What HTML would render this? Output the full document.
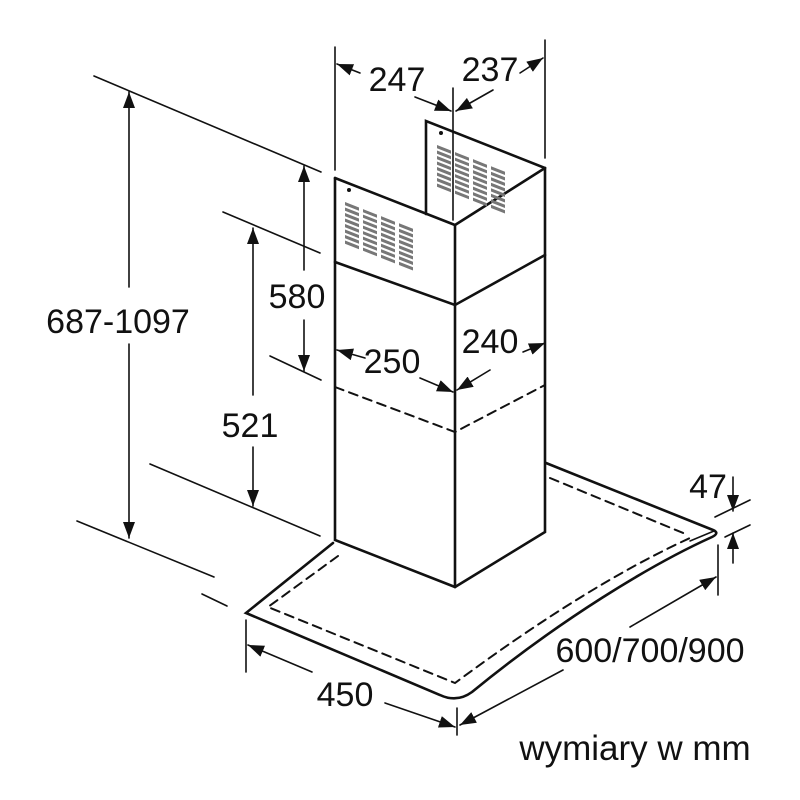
<!DOCTYPE html>
<html><head><meta charset="utf-8"><style>
html,body{margin:0;padding:0;background:#fff;}
svg{display:block;}
text{font-family:"Liberation Sans",Arial,sans-serif;fill:#111;}
</style></head><body>
<svg width="800" height="800" viewBox="0 0 800 800" xmlns="http://www.w3.org/2000/svg">
<defs>
<marker id="a" markerUnits="userSpaceOnUse" markerWidth="18" markerHeight="12" refX="16" refY="6" orient="auto">
<path d="M0,0 L16,6 L0,12 Z" fill="#111"/></marker>
<g id="col">
<rect x="0" y="0" width="14" height="3.2" fill="#777"/>
<rect x="0" y="5.5" width="14" height="3.2" fill="#777"/>
<rect x="0" y="11" width="14" height="3.2" fill="#777"/>
<rect x="0" y="16.5" width="14" height="3.2" fill="#777"/>
<rect x="0" y="22" width="14" height="3.2" fill="#777"/>
<rect x="0" y="27.5" width="14" height="3.2" fill="#777"/>
<rect x="0" y="33" width="14" height="3.2" fill="#777"/>
<rect x="0" y="38.5" width="14" height="3.2" fill="#777"/>
</g>
</defs>
<g stroke="#111" fill="none" stroke-linecap="round">
<g stroke-width="2.6">
<path d="M335,178 L335,540 L455,587 L545,532 L545,168 L426,121 L426,214"/>
<path d="M335,178 L455,225 L545,168"/>
<path d="M455,225 L455,587"/>
<path d="M335,262 L455,305 L545,255"/>
<path d="M546,463 L713,530 Q720,533 712,537 C650,565 560,620 472,692 Q457,703 440,695 L246,613 L333,543"/>
</g>
<path d="M690,541 L714,531" stroke-width="1.5"/>
<g stroke-width="2" stroke-dasharray="9,6">
<path d="M335,387 L455,432 L545,385"/>
<path d="M338,556 L268,607 L455,683 C540,620 620,570 690,538"/>
<path d="M550,478 L688,535"/>
</g>
<g stroke-width="1.6">
<path d="M335,47 L335,170"/>
<path d="M545,40 L545,158"/>
<path d="M453,88 L453,220"/>
<path d="M94,76 L321,172"/>
<path d="M223,212 L320,253"/>
<path d="M270,356 L321,380"/>
<path d="M150,464 L320,536"/>
<path d="M77,521 L214,577"/>
<path d="M202,594 L227,606"/>
<path d="M718,545 L718,595"/>
<path d="M457,708 L457,735"/>
<path d="M246,620 L246,672"/>
<path d="M715,517 L750,500"/>
<path d="M725,537 L750,525"/>
</g>
<g stroke-width="1.6" marker-end="url(#a)">
<path d="M129,287 L129,92"/>
<path d="M129,344 L129,538"/>
<path d="M304,270 L304,166"/>
<path d="M304,320 L304,371"/>
<path d="M253,395 L253,228"/>
<path d="M253,447 L253,506"/>
<path d="M360,73 L337,64"/>
<path d="M415,97 L451,111"/>
<path d="M493,90 L456,111"/>
<path d="M520,73 L543,58"/>
<path d="M365,358 L337,350"/>
<path d="M420,378 L453,392"/>
<path d="M523,352 L545,343"/>
<path d="M490,370 L457,390"/>
<path d="M733,477 L733,511"/>
<path d="M733,563 L733,533"/>
<path d="M630,627 L716,577"/>
<path d="M563,670 L460,725"/>
<path d="M312,672 L248,645"/>
<path d="M385,703 L455,727"/>
</g>
</g>
<g transform="translate(345,202) skewY(21.5)">
<use href="#col" x="0"/><use href="#col" x="18"/><use href="#col" x="36"/><use href="#col" x="54"/>
</g>
<g transform="translate(437,145) skewY(21.5)">
<use href="#col" x="0"/><use href="#col" x="18"/><use href="#col" x="36"/><use href="#col" x="54"/>
</g>
<circle cx="349" cy="190" r="2" fill="#111"/>
<circle cx="441" cy="133" r="2" fill="#111"/>
<g font-size="34" text-anchor="middle">
<text x="397" y="91">247</text>
<text x="490" y="81">237</text>
<text x="118" y="333">687-1097</text>
<text x="297" y="308">580</text>
<text x="250" y="437">521</text>
<text x="392" y="373">250</text>
<text x="490" y="353">240</text>
<text x="708" y="498">47</text>
<text x="650" y="662">600/700/900</text>
<text x="345" y="706">450</text>
<text x="635" y="760" font-size="35">wymiary w mm</text>
</g>
</svg>
</body></html>
